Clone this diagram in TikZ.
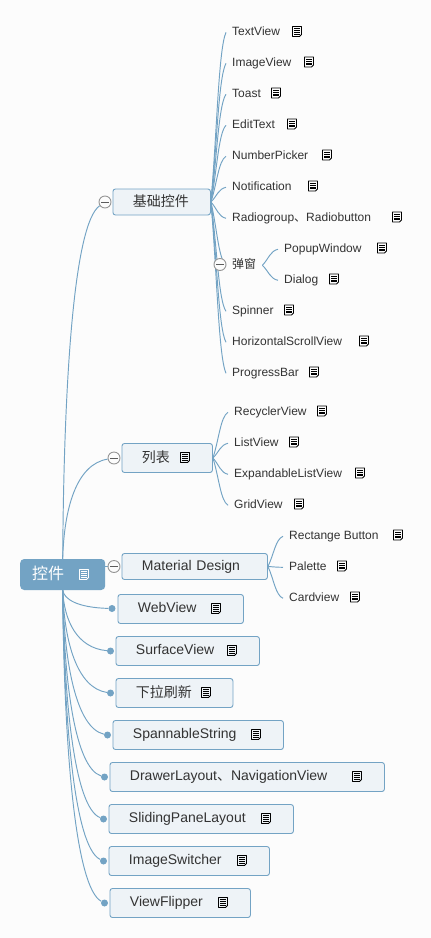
\documentclass[tikz,border=0pt]{standalone}
\usepackage{fontspec}
\setmainfont{Liberation Sans}
\newfontfamily\cjk{Noto Sans CJK SC}
\usetikzlibrary{calc,backgrounds}
\definecolor{mapblue}{RGB}{115,163,196}
\definecolor{mapfill}{RGB}{238,243,247}
\definecolor{mapink}{RGB}{51,51,51}
\definecolor{mapgray}{RGB}{150,150,150}
\definecolor{mappage}{RGB}{252,252,252}
\tikzset{
  rootbox/.style={fill=mapblue, rounded corners=4pt, anchor=west, align=left, text=white,
    minimum height=31pt, inner xsep=12pt, text width=#1, font=\fontsize{16}{18}\selectfont},
  topic/.style={draw=mapblue, fill=mapfill, rounded corners=2.5pt, anchor=west, align=left, text=mapink,
    line width=.9pt, inner xsep=20pt, text width=#1, font=\fontsize{14}{16}\selectfont},
  leaf/.style={anchor=west, yshift=-1.3pt, inner xsep=6pt, inner ysep=0pt, text=mapink, text height=9pt, text depth=3pt,
    font=\fontsize{12}{14}\selectfont},
  fold/.style={circle, draw=mapgray, fill=mappage, minimum size=12pt, inner sep=0pt, line width=.9pt,
    path picture={\draw[mapink!80, line width=.8pt] ([xshift=-4pt]path picture bounding box.center) -- ([xshift=4pt]path picture bounding box.center);}},
  tip/.style={circle, fill=mapblue, minimum size=7pt, inner sep=0pt},
  link/.style={mapblue, line width=.95pt},
  limb/.style={link, to path={let \p1=(\tikztostart),\p2=(\tikztotarget) in
    .. controls ($(\p1)!.4!(\p2)$) and (.5*\x1+.5*\x2,.1*\y1+.9*\y2) .. (\tikztotarget)}},
  trunk/.style={link, to path={let \p1=(\tikztostart),\p2=(\tikztotarget) in
    .. controls (.97*\x1+.03*\x2,.5*\y1+.5*\y2) and (.7*\x1+.3*\x2,.05*\y1+.95*\y2) .. (\tikztotarget)}},
  notedoc/.pic={
    \draw[#1, line width=.9pt, line join=round] (-4.5,-5) -- (4.5,-5) -- (4.5,3) -- (2.5,5) -- (-4.5,5) -- cycle;
    \foreach \r in {-2.7,-.9,.9,2.7} \draw[#1, line width=.7pt] (-2.6,\r) -- (2.6,\r);
  }
}
\begin{document}
\begin{tikzpicture}[x=1pt,y=-1pt]
  \useasboundingbox (0,0) rectangle (431,938);
  % centre
  \node[rootbox=61pt] (root) at (20,574.5) {\raisebox{4pt}{\cjk 控件}};
  \pic at (84,574.5) {notedoc=white};

  % first level
  \node[topic=57.5pt, minimum height=26pt] (base) at (112.5,202) {\raisebox{2.5pt}{\cjk 基础控件}};
  \node[fold] (basefold) at (105,202) {};
  \node[topic=50.5pt, minimum height=29pt] (lists) at (121.5,458) {\raisebox{3pt}{\cjk 列表}};
  \pic at (185,457.5) {notedoc=black};
  \node[fold] (listsfold) at (114,458) {};
  \node[topic=105.5pt, minimum height=26pt] (material) at (121.5,566.5) {\raisebox{1.5pt}{Material Design}};
  \node[fold] (materialfold) at (114,566.5) {};
  \node[topic=85.5pt, minimum height=29pt] (webview) at (117.5,609) {\raisebox{3pt}{WebView}};
  \pic at (216,608.5) {notedoc=black};
  \node[tip] (webtip) at (112,608.5) {};
  \node[topic=103.5pt, minimum height=29pt] (surface) at (115.5,651) {\raisebox{3pt}{SurfaceView}};
  \pic at (232,650.5) {notedoc=black};
  \node[tip] (surfacetip) at (110.5,651) {};
  \node[topic=77pt, minimum height=29pt] (pull) at (115.5,693) {\raisebox{3pt}{\cjk 下拉刷新}};
  \pic at (206,692.5) {notedoc=black};
  \node[tip] (pulltip) at (110.5,693) {};
  \node[topic=130.5pt, minimum height=29pt] (spannable) at (112.5,735) {\raisebox{3pt}{SpannableString}};
  \pic at (256,734.5) {notedoc=black};
  \node[tip] (spannabletip) at (107.5,735) {};
  \node[topic=234.5pt, minimum height=29pt] (drawer) at (109.5,777) {\raisebox{3pt}{DrawerLayout{\cjk 、}NavigationView}};
  \pic at (357,776.5) {notedoc=black};
  \node[tip] (drawertip) at (104.5,777) {};
  \node[topic=144.5pt, minimum height=29pt] (sliding) at (108.5,819) {\raisebox{3pt}{SlidingPaneLayout}};
  \pic at (266,818.5) {notedoc=black};
  \node[tip] (slidingtip) at (103.5,819) {};
  \node[topic=120.5pt, minimum height=29pt] (switcher) at (108.5,861) {\raisebox{3pt}{ImageSwitcher}};
  \pic at (242,860.5) {notedoc=black};
  \node[tip] (switchertip) at (103.5,861) {};
  \node[topic=100.5pt, minimum height=29pt] (flipper) at (109.5,903) {\raisebox{3pt}{ViewFlipper}};
  \pic at (223,902.5) {notedoc=black};
  \node[tip] (flippertip) at (104.5,903) {};

  % leaves of the first branch
  \node[leaf] (textview) at (226,31) {TextView};
  \pic at (297,31.5) {notedoc=black};
  \node[leaf] (imageview) at (226,62) {ImageView};
  \pic at (309,62) {notedoc=black};
  \node[leaf] (toast) at (226,93) {Toast};
  \pic at (276,93) {notedoc=black};
  \node[leaf] (edittext) at (226,124) {EditText};
  \pic at (292,124) {notedoc=black};
  \node[leaf] (picker) at (226,155) {NumberPicker};
  \pic at (327,155) {notedoc=black};
  \node[leaf] (notify) at (226,186) {Notification};
  \pic at (313,186) {notedoc=black};
  \node[leaf] (radio) at (226,217) {Radiogroup{\cjk 、}Radiobutton};
  \pic at (397,217) {notedoc=black};
  \node[leaf] (popup) at (226,264) {\cjk 弹窗};
  \node[fold] (popupfold) at (220,264.5) {};
  \node[leaf] (popwin) at (278,248) {PopupWindow};
  \pic at (382,248) {notedoc=black};
  \node[leaf] (dialog) at (278,279) {Dialog};
  \pic at (334,279) {notedoc=black};
  \node[leaf] (spinner) at (226,310) {Spinner};
  \pic at (289,310) {notedoc=black};
  \node[leaf] (hscroll) at (226,341) {HorizontalScrollView};
  \pic at (364,341) {notedoc=black};
  \node[leaf] (progress) at (226,372) {ProgressBar};
  \pic at (314,372) {notedoc=black};

  % leaves of the second and third branch
  \node[leaf] (recycler) at (228,411) {RecyclerView};
  \pic at (322,411) {notedoc=black};
  \node[leaf] (listview) at (228,442) {ListView};
  \pic at (294,442) {notedoc=black};
  \node[leaf] (expand) at (228,473) {ExpandableListView};
  \pic at (360,473) {notedoc=black};
  \node[leaf] (gridview) at (228,504) {GridView};
  \pic at (299,504) {notedoc=black};
  \node[leaf] (rectbtn) at (283,535) {Rectange Button};
  \pic at (398,535) {notedoc=black};
  \node[leaf] (palette) at (283,566) {Palette};
  \pic at (342,566) {notedoc=black};
  \node[leaf] (cardview) at (283,597) {Cardview};
  \pic at (355,597) {notedoc=black};

  \begin{scope}[on background layer]
    \fill[mappage] (0,0) rectangle (431,938);
    \draw[trunk] (root.north) to (basefold.215);
    \draw[trunk] (root.north) to (listsfold.190);
    \draw[link] (root.east |- materialfold) -- (materialfold);
    \draw[trunk] (root.south) to (webtip);
    \draw[trunk] (root.south) to (surfacetip);
    \draw[trunk] (root.south) to (pulltip);
    \draw[trunk] (root.south) to (spannabletip);
    \draw[trunk] (root.south) to (drawertip);
    \draw[trunk] (root.south) to (slidingtip);
    \draw[trunk] (root.south) to (switchertip);
    \draw[trunk] (root.south) to (flippertip);
    \draw[limb] (base.east) to (textview.west);
    \draw[limb] (base.east) to (imageview.west);
    \draw[limb] (base.east) to (toast.west);
    \draw[limb] (base.east) to (edittext.west);
    \draw[limb] (base.east) to (picker.west);
    \draw[limb] (base.east) to (notify.west);
    \draw[limb] (base.east) to (radio.west);
    \draw[limb] (base.east) to (popup.west);
    \draw[limb] (base.east) to (spinner.west);
    \draw[limb] (base.east) to (hscroll.west);
    \draw[limb] (base.east) to (progress.west);
    \draw[limb] (popup.east) to (popwin.west);
    \draw[limb] (popup.east) to (dialog.west);
    \draw[limb] (lists.east) to (recycler.west);
    \draw[limb] (lists.east) to (listview.west);
    \draw[limb] (lists.east) to (expand.west);
    \draw[limb] (lists.east) to (gridview.west);
    \draw[limb] (material.east) to (rectbtn.west);
    \draw[limb] (material.east) to (palette.west);
    \draw[limb] (material.east) to (cardview.west);
  \end{scope}
\end{tikzpicture}
\end{document}
